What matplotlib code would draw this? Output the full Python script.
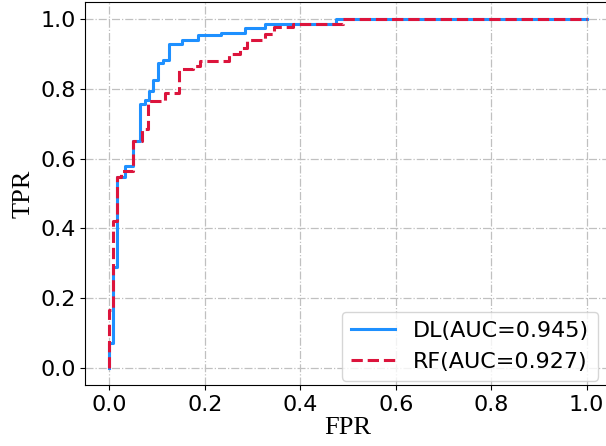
import matplotlib
matplotlib.use('Agg')
import matplotlib.pyplot as plt

# ROC corner points (fpr, tpr), drawn as post steps
dl_fpr = [0, 0, 0.0084, 0.0155, 0.033, 0.05, 0.064, 0.075, 0.083, 0.091, 0.102,
          0.112, 0.125, 0.152, 0.186, 0.235, 0.284, 0.326, 0.475, 1.0]
dl_tpr = [0, 0.07, 0.289, 0.547, 0.58, 0.652, 0.757, 0.769, 0.795, 0.826, 0.875,
          0.884, 0.93, 0.94, 0.955, 0.962, 0.976, 0.988, 1.0, 1.0]

rf_fpr = [0, 0, 0.008, 0.0155, 0.025, 0.05, 0.068, 0.082, 0.116, 0.146, 0.176,
          0.19, 0.25, 0.274, 0.288, 0.326, 0.344, 0.385, 0.49, 1.0]
rf_tpr = [0, 0.165, 0.42, 0.547, 0.566, 0.652, 0.686, 0.766, 0.79, 0.857, 0.866,
          0.88, 0.9, 0.919, 0.94, 0.957, 0.978, 0.988, 1.0, 1.0]

dl_auc = 0.945
rf_auc = 0.927

if __name__ == '__main__':
    fig = plt.figure(figsize=(6.06, 4.46), dpi=100)
    # axes run a little past the right edge of the figure
    ax = fig.add_axes([0.1409, 0.1368, 0.8667, 0.8587])

    ax.plot(dl_fpr, dl_tpr, drawstyle='steps-post', color='#1E90FF', linewidth=2.2,
            label='DL(AUC=%.3f)' % dl_auc)
    ax.plot(rf_fpr, rf_tpr, drawstyle='steps-post', color='#DC143C', linewidth=2.2,
            linestyle='--', label='RF(AUC=%.3f)' % rf_auc)

    ax.set_xlim(-0.05, 1.05)
    ax.set_ylim(-0.05, 1.05)
    ax.set_xticks([0, 0.2, 0.4, 0.6, 0.8, 1.0])
    ax.set_yticks([0, 0.2, 0.4, 0.6, 0.8, 1.0])
    ax.tick_params(labelsize=16)
    ax.grid(True, linestyle='-.', color='#c0c0c0', linewidth=0.9)
    ax.spines['right'].set_visible(False)

    ax.set_xlabel('FPR', fontsize=19, family='Liberation Serif', labelpad=2)
    ax.set_ylabel('TPR', fontsize=19, family='Liberation Serif')

    ax.legend(loc='lower right', bbox_to_anchor=(0.976, 0.011), borderaxespad=0,
              fontsize=16)

    plt.savefig('out.png', dpi=100)
    plt.close()
